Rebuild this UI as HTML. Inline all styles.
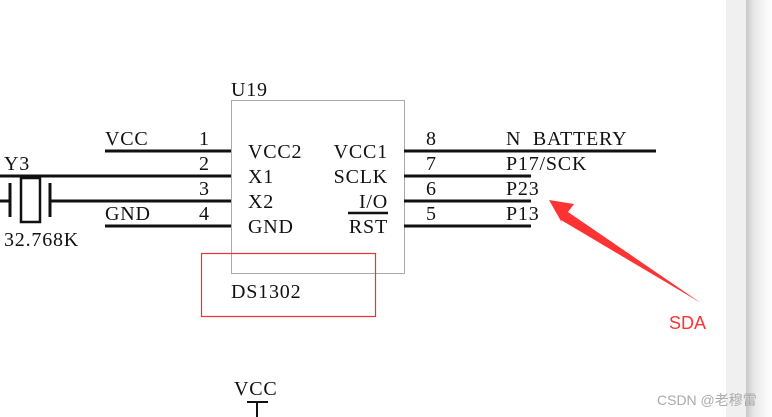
<!DOCTYPE html>
<html><head><meta charset="utf-8"><style>
html,body{margin:0;padding:0;background:#fff;}
body{width:772px;height:417px;overflow:hidden;position:relative;}
svg{position:absolute;left:0;top:0;}
</style></head><body>
<svg width="772" height="417" xmlns="http://www.w3.org/2000/svg">
<rect x="0" y="0" width="772" height="417" fill="#fff"/>
<defs><linearGradient id="sh" x1="0" x2="1" y1="0" y2="0">
<stop offset="0" stop-color="#c8c8c8"/><stop offset="0.3" stop-color="#e8e8e8"/><stop offset="1" stop-color="#ffffff"/></linearGradient></defs>
<rect x="726" y="0" width="20" height="417" fill="#f0f0f0"/>
<rect x="746" y="0" width="26" height="417" fill="url(#sh)"/>
<g font-family="Liberation Serif, serif" font-size="20" letter-spacing="0.8" fill="#111">
<rect x="231.5" y="100.5" width="173" height="173" fill="none" stroke="#aaa" stroke-width="1"/>
<text x="231" y="96">U19</text>
<g stroke="#111" stroke-width="3">
<line x1="105" y1="151" x2="231" y2="151"/>
<line x1="0" y1="176" x2="231" y2="176"/>
<line x1="0" y1="201" x2="10" y2="201"/>
<line x1="50" y1="201" x2="231" y2="201"/>
<line x1="105" y1="226" x2="231" y2="226"/>
<line x1="404" y1="151" x2="656" y2="151"/>
<line x1="404" y1="176" x2="531" y2="176"/>
<line x1="404" y1="201" x2="531" y2="201"/>
<line x1="404" y1="226" x2="531" y2="226"/>
<line x1="10" y1="183" x2="10" y2="217"/>
<line x1="50" y1="183" x2="50" y2="217"/>
<line x1="348" y1="213" x2="388" y2="213" stroke-width="2.5"/>
<line x1="247" y1="402" x2="268" y2="402" stroke-width="2"/>
<line x1="257" y1="402" x2="257" y2="417" stroke-width="2"/>
</g>
<rect x="21" y="178" width="19" height="44" fill="none" stroke="#111" stroke-width="2.5"/>
<text x="4" y="170">Y3</text>
<text x="4" y="246">32.768K</text>
<text x="105" y="145">VCC</text>
<text x="105" y="220">GND</text>
<text x="199" y="145">1</text>
<text x="199" y="170">2</text>
<text x="199" y="195">3</text>
<text x="199" y="220">4</text>
<text x="248" y="158">VCC2</text>
<text x="248" y="183">X1</text>
<text x="248" y="208">X2</text>
<text x="248" y="233">GND</text>
<text x="388" y="158" text-anchor="end">VCC1</text>
<text x="388" y="183" text-anchor="end">SCLK</text>
<text x="388" y="208" text-anchor="end">I/O</text>
<text x="388" y="233" text-anchor="end">RST</text>
<text x="426" y="145">8</text>
<text x="426" y="170">7</text>
<text x="426" y="195">6</text>
<text x="426" y="220">5</text>
<text x="506" y="145">N&#160; BATTERY</text>
<text x="506" y="170">P17/SCK</text>
<text x="506" y="195">P23</text>
<text x="506" y="220">P13</text>
<text x="231" y="298">DS1302</text>
<text x="234" y="395">VCC</text>
</g>
<rect x="201.5" y="253.5" width="174" height="63" fill="none" stroke="#e33" stroke-width="1.2"/>
<polygon points="549,200 574,204 568,212 701,303 561,220 562,223" fill="#f33"/>
<text x="669" y="329" font-family="Liberation Sans, sans-serif" font-size="18" fill="#f33">SDA</text>
<text x="657" y="405" font-family="Liberation Sans, 'Noto Sans CJK SC', sans-serif" font-size="14" fill="#aaa">CSDN @老穆雷</text>
</svg>
</body></html>
